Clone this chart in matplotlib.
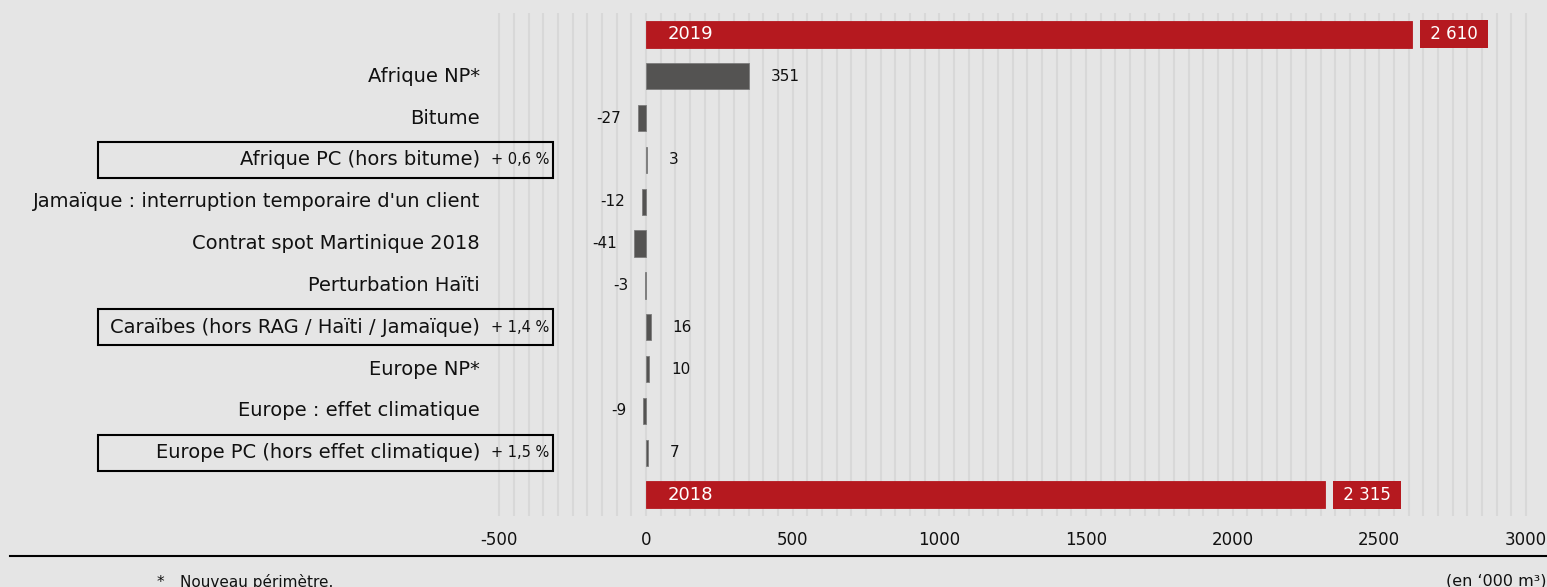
import matplotlib.pyplot as plt
import numpy as np
import matplotlib.transforms as mtransforms
from matplotlib.patches import Rectangle
from matplotlib.lines import Line2D

plt.rcParams['font.family'] = 'DejaVu Sans'
plt.rcParams['axes.unicode_minus'] = False

rows = ['2019', 'Afrique NP*', 'Bitume', 'Afrique PC (hors bitume)',
        "Jamaïque : interruption temporaire d'un client",
        'Contrat spot Martinique 2018', 'Perturbation Haïti',
        'Caraïbes (hors RAG / Haïti / Jamaïque)', 'Europe NP*',
        'Europe : effet climatique', 'Europe PC (hors effet climatique)', '2018']
values = [2610, 351, -27, 3, -12, -41, -3, 16, 10, -9, 7, 2315]
total_labels = {0: '2 610', 11: '2 315'}
growth_labels = {3: '+ 0,6 %', 7: '+ 1,4 %', 10: '+ 1,5 %'}
xticks = [-500, 0, 500, 1000, 1500, 2000, 2500, 3000]

bg = '#e5e5e5'
red = '#b5191f'
gray = '#545352'

W, H = 1547, 587
fig = plt.figure(figsize=(W / 100, H / 100), dpi=100)
fig.patch.set_facecolor(bg)

# axes placed so that -510..3010 spans the grid area
ax = fig.add_axes([496.4 / W, 1 - 515.6 / H, (1528.9 - 496.4) / W, 502.2 / H])
ax.set_facecolor(bg)

y = np.arange(len(rows))
colors = [red if i in total_labels else gray for i in y]
edges = [red if i in total_labels else '#7d7d7d' for i in y]
ax.barh(y, values, height=0.63, color=colors, edgecolor=edges, linewidth=0.6, zorder=3)

ax.set_xlim(-510, 3010)
ax.set_ylim(len(rows) - 0.5, -0.5)
ax.set_xticks(xticks)
ax.set_xticklabels([str(t) for t in xticks], fontsize=12, color='#111111')
ax.set_xticks(np.arange(-500, 3001, 50), minor=True)
ax.set_yticks([])
ax.grid(axis='x', which='both', color='#d8d8d8', linewidth=1.5)
ax.set_axisbelow(True)
ax.tick_params(axis='x', which='both', length=0, pad=11)
for s in ax.spines.values():
    s.set_visible(False)

trans = mtransforms.blended_transform_factory(fig.transFigure, ax.transData)

for i, (name, v) in enumerate(zip(rows, values)):
    if i in total_labels:
        ax.annotate(name, xy=(0, i), xytext=(22, 0), textcoords='offset pixels',
                    ha='left', va='center', color='white', fontsize=13, zorder=4)
        ax.annotate(' ' + total_labels[i] + ' ', xy=(v, i), xytext=(13, 0),
                    textcoords='offset pixels', ha='left', va='center',
                    color='white', fontsize=12, zorder=4,
                    bbox=dict(boxstyle='square,pad=0.3', fc=red, ec='none'))
        continue
    fig.text(480 / W, i, name, transform=trans, ha='right', va='center',
             fontsize=14, color='#111111')
    if v < 0:
        ax.annotate(str(v), xy=(v, i), xytext=(-17, 0), textcoords='offset pixels',
                    ha='right', va='center', fontsize=11, color='#111111')
    else:
        ax.annotate(str(v), xy=(v, i), xytext=(22, 0), textcoords='offset pixels',
                    ha='left', va='center', fontsize=11, color='#111111')
    if i in growth_labels:
        fig.text(549 / W, i, growth_labels[i], transform=trans, ha='right',
                 va='center', fontsize=10.5, color='#111111')
        fig.add_artist(Rectangle((98 / W, i - 0.43), (553 - 98) / W, 0.86,
                                 transform=trans, fill=False, ec='black', lw=1.5))

fig.add_artist(Line2D([10 / W, 1], [1 - 556 / H] * 2, color='black', lw=1.5))
fig.text(157 / W, 1 - 587 / H, '*', fontsize=11, va='baseline', color='#111111')
fig.text(180 / W, 1 - 587 / H, 'Nouveau périmètre.', fontsize=11, va='baseline', color='#111111')
fig.text(1546 / W, 1 - 586 / H, '(en \u2018000 m\u00b3)', fontsize=11.5, va='baseline',
         ha='right', color='#111111')

fig.savefig('out.png', dpi=100, facecolor=bg)
